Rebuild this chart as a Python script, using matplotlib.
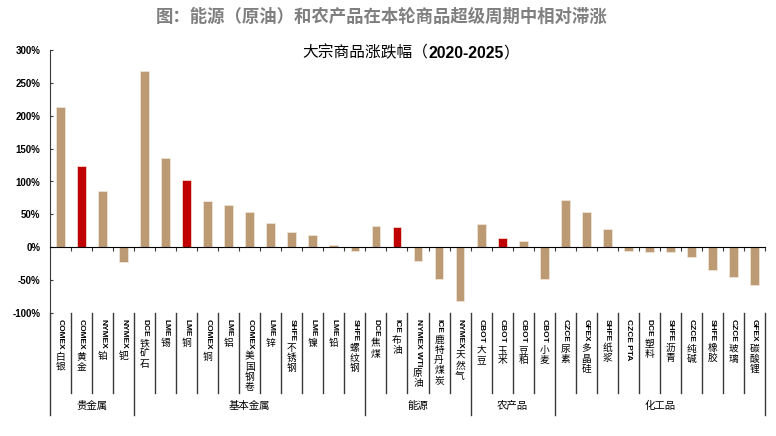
import numpy as np
import matplotlib
matplotlib.use('Agg')
import matplotlib.pyplot as plt
from matplotlib.transforms import blended_transform_factory

plt.rcParams['font.family'] = ['Noto Sans CJK SC', 'DejaVu Sans']

# data
names = ['COMEX白银', 'COMEX黄金', 'NYMEX铂', 'NYMEX钯',
         'DCE铁矿石', 'LME锡', 'LME铜', 'COMEX铜', 'LME铝', 'COMEX美国钢卷', 'LME锌',
         'SHFE不锈钢', 'LME镍', 'LME铅', 'SHFE螺纹钢',
         'DCE焦煤', 'ICE布油', 'NYMEX WTI原油', 'ICE鹿特丹煤炭', 'NYMEX天然气',
         'CBOT大豆', 'CBOT玉米', 'CBOT豆粕', 'CBOT小麦',
         'CZCE尿素', 'GFEX多晶硅', 'SHFE纸浆', 'CZCE PTA', 'DCE塑料', 'SHFE沥青',
         'CZCE纯碱', 'SHFE橡胶', 'CZCE玻璃', 'GFEX碳酸锂']
changes = [213, 124, 86, -23,
           268, 135, 102, 70, 65, 53, 37, 23, 19, 4, -6,
           33, 31, -21, -49, -82,
           35, 14, 9, -48,
           72, 53, 27, -6, -7, -7, -15, -35, -45, -58]
highlight = ['COMEX黄金', 'LME铜', 'ICE布油', 'CBOT玉米']
groups = ['贵金属', '基本金属', '能源', '农产品', '化工品']
group_sizes = [4, 11, 5, 4, 10]
yticks = [-100, -50, 0, 50, 100, 150, 200, 250, 300]

W, H = 776, 436
fig = plt.figure(figsize=(W/100, H/100), dpi=100)
ax = fig.add_axes([50/W, 1-313/H, 715/W, 263/H])

x = np.arange(len(names))
colors = ['#C00000' if n in highlight else '#BC9A74' for n in names]
ax.bar(x, changes, width=0.42, color=colors, edgecolor='#F2E8DC', linewidth=0.5)
ax.set_xlim(-0.5, len(names)-0.5)
ax.set_ylim(-100, 300)

linec = '#3A3A3A'
ax.spines['top'].set_visible(False)
ax.spines['right'].set_visible(False)
ax.spines['left'].set_color(linec)
ax.spines['bottom'].set_position(('data', 0))
ax.spines['bottom'].set_color('black')

ax.set_xticks(np.arange(0.5, len(names), 1))
ax.tick_params(axis='x', direction='out', length=3, width=0.8, labelbottom=False, color=linec)
ax.set_yticks(yticks)
ax.set_yticklabels([f'{v}%' for v in yticks], fontfamily='Liberation Sans',
                   fontweight='bold', fontsize=7)
ax.tick_params(axis='y', direction='in', length=2.5, width=0.8, pad=7, color=linec)

# separator lines below the plot
trans = blended_transform_factory(ax.transData, ax.transAxes)
cat_bottom = -80/263
grp_bottom = -102/263
bounds = np.cumsum([0] + group_sizes) - 0.5
for b in np.arange(0.5, len(names)-1, 1):
    if b in bounds:
        continue
    ax.plot([b, b], [0, cat_bottom], transform=trans, color=linec, lw=1, clip_on=False)
for b in bounds:
    ax.plot([b, b], [0, grp_bottom], transform=trans, color=linec, lw=1, clip_on=False)

# vertical category labels: latin part rotated, chinese characters stacked
def split_label(s):
    for i, ch in enumerate(s):
        if ord(ch) > 0x2E80:
            return s[:i], s[i:]
    return s, ''

fig.canvas.draw()
renderer = fig.canvas.get_renderer()
top = -6/263
for i, n in enumerate(names):
    lat, cjk = split_label(n)
    t = ax.text(i, top, lat, transform=trans, rotation=270, ha='center', va='top',
                fontsize=6, fontweight='bold', fontfamily='Liberation Sans', color='black')
    if cjk:
        bb = t.get_window_extent(renderer)
        yb = ax.transAxes.inverted().transform((0, bb.y0))[1]
        ax.text(i, yb - 2/263, '\n'.join(cjk), transform=trans, ha='center', va='top',
                fontsize=7, linespacing=1.0, color='black')

# group labels
for g, a, b in zip(groups, bounds[:-1], bounds[1:]):
    ax.text((a+b)/2, -93/263, g, transform=trans, ha='center', va='center',
            fontsize=7.5, color='black')

fig.text(382/W, 1-17/H, '图：能源（原油）和农产品在本轮商品超级周期中相对滞涨',
         ha='center', va='center', fontsize=12.5, fontweight='bold', color='#7F7F7F')

# subtitle in three pieces: chinese, bold digits, closing bracket
parts = [('大宗商品涨跌幅（', 'Noto Sans CJK SC', 'normal'),
         ('2020-2025', 'Liberation Sans', 'bold'),
         ('）', 'Noto Sans CJK SC', 'normal')]
xpos = 302
for s, fam, wt in parts:
    t = fig.text(xpos/W, 1-53/H, s, ha='left', va='center', fontsize=11.3,
                 fontfamily=fam, fontweight=wt, color='black')
    xpos = t.get_window_extent(renderer).x1

fig.savefig('out.png', dpi=100)
